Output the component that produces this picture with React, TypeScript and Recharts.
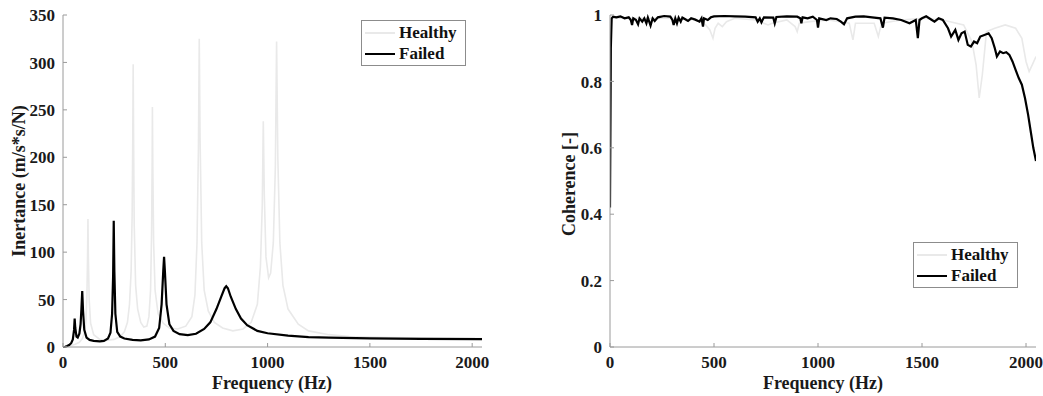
import { LineChart, Line, XAxis, YAxis } from "recharts";

// Inertance FRF (Hz, m/s*s/N)
const FAILED_FRF_HZ = [0, 10, 20, 30, 40, 48, 54, 57, 60, 66, 72, 80, 86, 90, 94, 98, 104, 115, 130, 150, 180, 200, 220, 232, 240, 245, 248, 251, 256, 265, 280, 300, 340, 380, 420, 450, 470, 482, 490, 494, 498, 506, 520, 540, 570, 610, 650, 690, 720, 750, 775, 790, 798, 806, 820, 845, 870, 900, 950, 1000, 1100, 1200, 1300, 1500, 1750, 2048];
const FAILED_FRF = [0, 0.3, 1, 2, 4, 8, 18, 30, 20, 11, 10, 14, 24, 40, 59, 38, 18, 10, 7.5, 6.5, 6, 6.5, 9, 15, 35, 75, 133, 80, 35, 16, 11, 9, 7.5, 7, 8, 11, 20, 45, 80, 95, 80, 45, 24, 17, 13.5, 12.5, 14, 19, 26, 40, 54, 62, 64, 62, 53, 40, 30, 23, 17, 14.5, 12, 10.5, 9.8, 9, 8.5, 8.3];

const HEALTHY_FRF_HZ = [0, 20, 40, 60, 80, 95, 105, 112, 117, 120, 122, 124, 128, 135, 150, 180, 210, 250, 280, 300, 315, 325, 333, 338, 341, 343, 345, 348, 355, 365, 380, 395, 410, 420, 428, 433, 436, 437, 439, 443, 450, 465, 490, 520, 560, 600, 630, 645, 655, 662, 666, 670, 678, 690, 710, 740, 780, 830, 880, 920, 950, 965, 974, 979, 984, 992, 1005, 1015, 1028, 1038, 1044, 1050, 1060, 1075, 1100, 1150, 1200, 1300, 1400, 1600, 1800, 2048];
const HEALTHY_FRF = [0, 0.5, 1.5, 3, 5, 9, 15, 28, 55, 95, 135, 95, 50, 25, 13, 8, 7, 8, 11, 16, 26, 45, 80, 140, 220, 298, 220, 130, 65, 40, 26, 21, 22, 32, 60, 120, 200, 253, 190, 110, 60, 35, 25, 20, 19, 22, 32, 55, 110, 210, 325, 220, 110, 60, 38, 26, 20, 17, 19, 26, 45, 85, 150, 238, 160, 95, 73, 78, 110, 190, 322, 200, 110, 65, 40, 24, 17, 13, 11, 10, 9.5, 9];

// Coherence [-]
const FAILED_COH_HZ = [0, 4, 8, 15, 30, 50, 70, 90, 100, 106, 112, 125, 135, 142, 155, 165, 175, 182, 195, 205, 215, 230, 260, 290, 300, 306, 314, 322, 330, 340, 348, 360, 375, 390, 410, 430, 440, 447, 452, 470, 485, 500, 550, 600, 650, 700, 710, 720, 728, 740, 785, 792, 800, 850, 900, 915, 920, 926, 950, 975, 995, 1000, 1006, 1040, 1060, 1090, 1110, 1125, 1140, 1180, 1220, 1260, 1300, 1312, 1320, 1360, 1400, 1440, 1470, 1480, 1488, 1500, 1520, 1540, 1560, 1580, 1600, 1625, 1640, 1660, 1675, 1690, 1705, 1720, 1735, 1750, 1765, 1780, 1800, 1820, 1835, 1850, 1860, 1875, 1890, 1905, 1920, 1935, 1950, 1965, 1980, 1995, 2010, 2025, 2035, 2048];
const FAILED_COH = [0.42, 0.9, 0.99, 0.995, 0.993, 0.996, 0.99, 0.993, 0.985, 0.97, 0.99, 0.985, 0.972, 0.99, 0.98, 0.99, 0.975, 0.992, 0.968, 0.99, 0.982, 0.993, 0.997, 0.995, 0.985, 0.97, 0.99, 0.975, 0.992, 0.98, 0.992, 0.988, 0.982, 0.99, 0.986, 0.98, 0.99, 0.965, 0.99, 0.985, 0.993, 0.996, 0.997, 0.996, 0.995, 0.993, 0.98, 0.99, 0.978, 0.993, 0.992, 0.975, 0.994, 0.996, 0.995, 0.99, 0.975, 0.993, 0.99, 0.995, 0.985, 0.962, 0.99, 0.985, 0.99, 0.988, 0.98, 0.972, 0.99, 0.995, 0.996, 0.993, 0.99, 0.962, 0.992, 0.99, 0.985, 0.975, 0.985, 0.93, 0.985, 0.99, 0.996, 0.988, 0.98, 0.99, 0.985, 0.96, 0.935, 0.955, 0.925, 0.945, 0.95, 0.91, 0.905, 0.92, 0.915, 0.935, 0.94, 0.945, 0.93, 0.9, 0.875, 0.89, 0.885, 0.888, 0.88, 0.86, 0.835, 0.81, 0.79, 0.75, 0.7, 0.64, 0.6, 0.56];

const HEALTHY_COH_HZ = [0, 5, 10, 100, 300, 420, 460, 480, 495, 505, 520, 540, 560, 600, 700, 760, 780, 850, 890, 900, 910, 960, 1050, 1150, 1168, 1180, 1270, 1290, 1305, 1400, 1500, 1600, 1700, 1740, 1760, 1775, 1790, 1810, 1850, 1900, 1950, 1980, 2000, 2015, 2030, 2048];
const HEALTHY_COH = [0.45, 0.95, 0.99, 0.99, 0.99, 0.985, 0.97, 0.955, 0.93, 0.96, 0.975, 0.965, 0.98, 0.99, 0.985, 0.97, 0.975, 0.985, 0.965, 0.95, 0.975, 0.98, 0.985, 0.975, 0.925, 0.975, 0.975, 0.935, 0.975, 0.985, 0.99, 0.985, 0.97, 0.92, 0.85, 0.75, 0.82, 0.95, 0.96, 0.97, 0.96, 0.93, 0.86, 0.83, 0.85, 0.875];

const FREQ_TICKS = [0, 500, 1000, 1500, 2000];
const FRF_TICKS = [0, 50, 100, 150, 200, 250, 300, 350];
const COH_TICKS = [0, 0.2, 0.4, 0.6, 0.8, 1];

const toPoints = (hz: number[], vals: number[]) =>
  hz.map((f, i) => ({ f, v: vals[i] }));

const FONT = '"Liberation Serif", "Times New Roman", serif';
const AXIS = "#9a9a9a";
const HEALTHY_COLOR = "#e9e9e9";
const noTick = () => <g />;

// own <text> so the serif font is really used
const xTick = (props: any) => (
  <text
    x={props.x}
    y={props.y}
    dy="0.75em"
    textAnchor="middle"
    fill="#1a1a1a"
    style={{ fontFamily: FONT, fontWeight: 700, fontSize: 17 }}
  >
    {props.payload.value}
  </text>
);
const yTick = (props: any) => (
  <text
    x={props.x}
    y={props.y}
    dy="0.36em"
    textAnchor="end"
    fill="#1a1a1a"
    style={{ fontFamily: FONT, fontWeight: 700, fontSize: 17 }}
  >
    {props.payload.value}
  </text>
);

type PanelProps = {
  left: number;
  width: number;
  yWidth: number;
  right: number;
  yTicks: number[];
  yMax: number;
  healthy: { f: number; v: number }[];
  failed: { f: number; v: number }[];
};

function Panel({ left, width, yWidth, right, yTicks, yMax, healthy, failed }: PanelProps) {
  return (
    <div style={{ position: "absolute", left, top: 0 }}>
      <LineChart
        width={width}
        height={396}
        margin={{ top: 15, right, bottom: 0, left: 0 }}
      >
        <XAxis
          dataKey="f"
          type="number"
          domain={[0, 2048]}
          ticks={FREQ_TICKS}
          allowDataOverflow
          height={49}
          stroke={AXIS}
          tickSize={-4}
          tickMargin={12}
          tick={xTick}
        />
        <XAxis
          xAxisId="top"
          orientation="top"
          dataKey="f"
          type="number"
          domain={[0, 2048]}
          ticks={FREQ_TICKS}
          height={0}
          stroke={AXIS}
          tickSize={-4}
          tick={noTick}
        />
        <YAxis
          type="number"
          domain={[0, yMax]}
          ticks={yTicks}
          width={yWidth}
          stroke={AXIS}
          tickSize={-4}
          tickMargin={12}
          tick={yTick}
        />
        <YAxis
          yAxisId="right"
          orientation="right"
          type="number"
          domain={[0, yMax]}
          ticks={yTicks}
          width={0}
          stroke={AXIS}
          tickSize={-4}
          tick={noTick}
        />
        <Line
          data={healthy}
          dataKey="v"
          stroke={HEALTHY_COLOR}
          strokeWidth={1.6}
          dot={false}
          type="linear"
          isAnimationActive={false}
        />
        <Line
          data={failed}
          dataKey="v"
          stroke="#000"
          strokeWidth={2.2}
          dot={false}
          type="linear"
          isAnimationActive={false}
        />
      </LineChart>
    </div>
  );
}

function LegendBox({ left, top }: { left: number; top: number }) {
  const row = (label: string, color: string) => (
    <div style={{ display: "flex", alignItems: "center", height: 21 }}>
      <div style={{ width: 30, height: 2, background: color, marginRight: 4 }} />
      <span>{label}</span>
    </div>
  );
  return (
    <div
      style={{
        position: "absolute",
        left,
        top,
        padding: "1px 8px 1px 3px",
        border: "1px solid #8c8c8c",
        background: "#fff",
        fontFamily: FONT,
        fontWeight: 700,
        fontSize: 17,
        lineHeight: "21px",
        color: "#111",
      }}
    >
      {row("Healthy", HEALTHY_COLOR)}
      {row("Failed", "#000")}
    </div>
  );
}

const titleStyle = {
  position: "absolute" as const,
  fontFamily: FONT,
  fontWeight: 700,
  fontSize: 18,
  color: "#1a1a1a",
  whiteSpace: "nowrap" as const,
};

export default function App() {
  return (
    <div
      style={{
        position: "absolute",
        left: 0,
        top: 0,
        width: 1043,
        height: 396,
        background: "#fff",
        overflow: "hidden",
        fontFamily: FONT,
      }}
    >
      <Panel
        left={0}
        width={500}
        yWidth={63}
        right={18}
        yTicks={FRF_TICKS}
        yMax={350}
        healthy={toPoints(HEALTHY_FRF_HZ, HEALTHY_FRF)}
        failed={toPoints(FAILED_FRF_HZ, FAILED_FRF)}
      />
      <Panel
        left={540}
        width={503}
        yWidth={70}
        right={7}
        yTicks={COH_TICKS}
        yMax={1}
        healthy={toPoints(HEALTHY_COH_HZ, HEALTHY_COH)}
        failed={toPoints(FAILED_COH_HZ, FAILED_COH)}
      />
      <LegendBox left={361} top={20} />
      <LegendBox left={913} top={242} />
      <div style={{ ...titleStyle, left: 272, top: 383, transform: "translate(-50%, -50%)" }}>
        Frequency (Hz)
      </div>
      <div style={{ ...titleStyle, left: 823, top: 383, transform: "translate(-50%, -50%)" }}>
        Frequency (Hz)
      </div>
      <div
        style={{ ...titleStyle, left: 19, top: 181, transform: "translate(-50%, -50%) rotate(-90deg)" }}
      >
        Inertance (m/s*s/N)
      </div>
      <div
        style={{ ...titleStyle, left: 569, top: 184, transform: "translate(-50%, -50%) rotate(-90deg)" }}
      >
        Coherence [-]
      </div>
    </div>
  );
}
